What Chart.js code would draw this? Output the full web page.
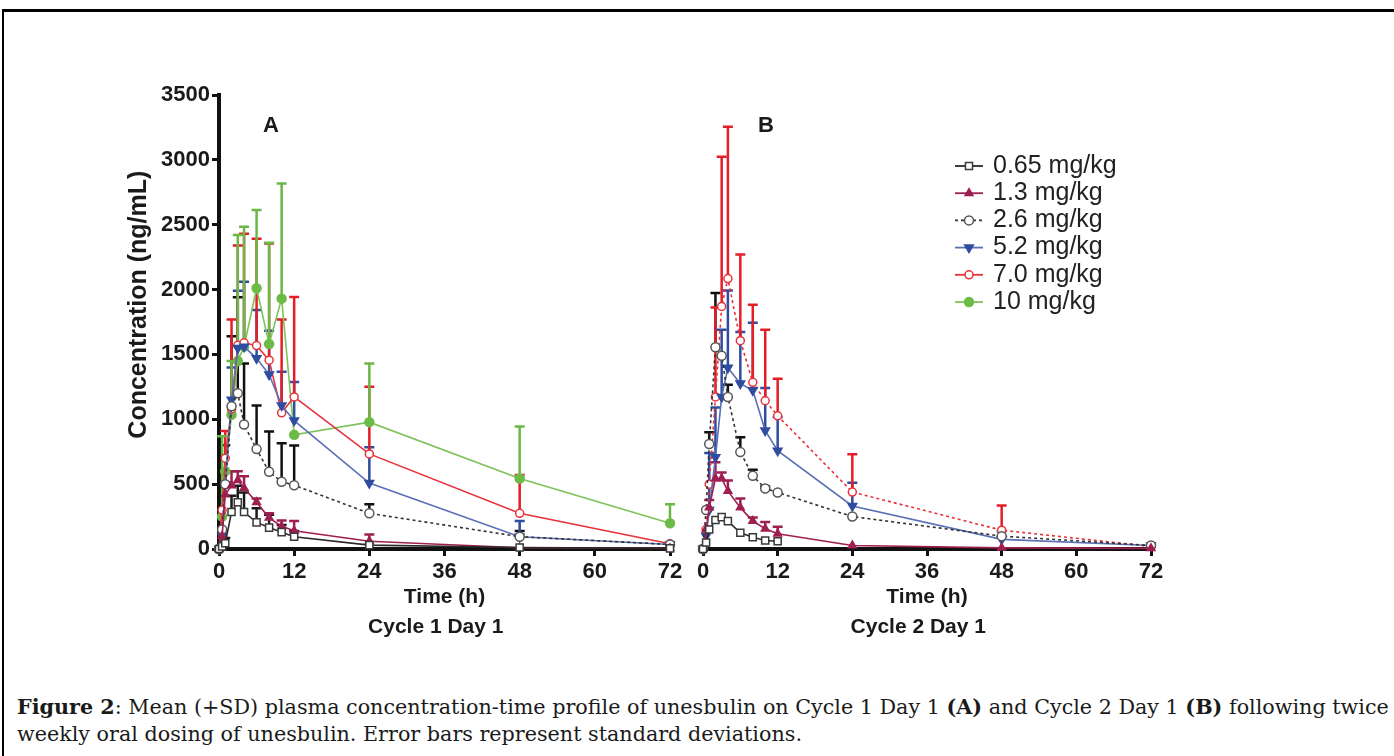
<!DOCTYPE html>
<html>
<head>
<meta charset="utf-8">
<script src="https://cdn.jsdelivr.net/npm/chart.js@4.4.1/dist/chart.umd.min.js"></script>
<style>
  html, body { margin: 0; padding: 0; background: #fff; }
  body { width: 1394px; height: 756px; position: relative; overflow: hidden; }
  #moldura { position: absolute; left: 2px; top: 9px; width: 1400px; height: 760px; border-top: 3px solid #000; border-left: 2px solid #000; }
  canvas { position: absolute; left: 0; top: 0; }
  .letra { position: absolute; transform: translate(-50%, -50%); font: bold 22px "Liberation Sans", Arial, sans-serif; color: #1a1a1a; }
  #rodape { position: absolute; left: 17px; top: 694px; font: 20.7px "DejaVu Serif", serif; line-height: 27px; white-space: nowrap; color: #1a1a1a; }
</style>
</head>
<body>
<div id="moldura"></div>
<canvas id="graficoCiclo1" width="1394" height="660"></canvas>
<canvas id="graficoCiclo2" width="1394" height="660"></canvas>
<div class="letra" style="left:271px; top:125px;">A</div>
<div class="letra" style="left:766px; top:125px;">B</div>
<div id="rodape"><b>Figure 2</b>: Mean (+SD) plasma concentration-time profile of unesbulin on Cycle 1 Day 1 <b>(A)</b> and Cycle 2 Day 1 <b>(B)</b> following twice<br>weekly oral dosing of unesbulin. Error bars represent standard deviations.</div>
<script>
// Tempos de coleta (h)
const tempos = [0, 0.5, 1, 2, 3, 4, 6, 8, 10, 12, 24, 48, 72];
const doses = ['0.65 mg/kg', '1.3 mg/kg', '2.6 mg/kg', '5.2 mg/kg', '7.0 mg/kg', '10 mg/kg'];

// Ciclo 1 Dia 1 - médias e desvios (ng/mL)
const c1Media065 = [0, 20, 45, 285, 360, 285, 205, 165, 130, 95, 30, 12, 5];
const c1Dp065    = [0, 0, 40, 125, 127, 150, 110, 100, 55, 43, 0, 0, 0];
const c1Media13  = [0, 100, 420, 490, 530, 470, 360, 240, 175, 140, 60, 10, 5];
const c1Dp13     = [0, 0, 170, 110, 70, 90, 30, 35, 45, 75, 52, 0, 0];
const c1Media26  = [0, 150, 500, 1100, 1200, 960, 770, 595, 518, 492, 275, 95, 35];
const c1Dp26     = [0, 0, 300, 540, 740, 470, 337, 310, 297, 305, 70, 43, 0];
const c1Media52  = [0, 100, 500, 1150, 1550, 1560, 1470, 1345, 1107, 990, 508, 95, 35];
const c1Dp52     = [0, 0, 0, 250, 440, 500, 373, 338, 259, 298, 276, 120, 0];
const c1Media70  = [0, 300, 700, 1080, 1570, 1590, 1568, 1456, 1050, 1172, 733, 275, 40];
const c1Dp70     = [0, 0, 210, 690, 770, 840, 823, 900, 720, 770, 517, 295, 0];
const c1Media10  = [0, 250, 600, 1035, 1450, 1560, 2010, 1580, 1930, 880, 978, 544, 198];
const c1Dp10     = [0, 620, 0, 415, 970, 924, 604, 780, 888, 0, 452, 400, 147];

// Ciclo 2 Dia 1 - médias e desvios (ng/mL)
const c2Media065 = [0, 50, 150, 223, 246, 215, 125, 91, 66, 60, null, null, null];
const c2Dp065    = [0, 0, 0, 0, 0, 0, 0, 0, 0, 0, 0, 0, 0];
const c2Media13  = [0, 150, 319, 543, 543, 448, 319, 215, 156, 118, 27, 9, 5];
const c2Dp13     = [0, 0, 59, 125, 47, 80, 70, 27, 52, 54, 0, 0, 0];
const c2Media26  = [0, 300, 810, 1555, 1490, 1172, 747, 564, 467, 436, 250, 99, 27];
const c2Dp26     = [0, 0, 90, 418, 0, 95, 115, 47, 15, 0, 0, 0, 0];
const c2Media52  = [0, 100, 300, 707, 1172, 1397, 1275, 1223, 913, 758, 332, 74, 27];
const c2Dp52     = [0, 0, 440, 383, 518, 596, 398, 522, 329, 260, 179, 63, 0];
const c2Media70  = [0, 150, 500, 1172, 1870, 2085, 1606, 1285, 1143, 1027, 439, 145, 20];
const c2Dp70     = [0, 0, 0, 690, 1153, 1170, 664, 598, 547, 285, 291, 190, 0];
const c2Media10  = [null, null, null, null, null, null, null, null, null, null, null, null, null];
const c2Dp10     = [0, 0, 0, 0, 0, 0, 0, 0, 0, 0, 0, 0, 0];

const fonteEixo = '"Liberation Sans", Arial, sans-serif';
const espaco = '\u00a0';

// Estilo de cada dose
const estilos = [
  { borderColor: '#2a2a2a', pointStyle: 'rect', pointBackgroundColor: '#fff', pointBorderColor: '#3a3a3a', pointRadius: 5, corBarra: '#1a1a1a' },
  { borderColor: '#9e1f50', pointStyle: 'triangle', pointBackgroundColor: '#9e1f50', pointBorderColor: '#9e1f50', pointRadius: 4.5, corBarra: '#9e1f50' },
  { borderColor: '#333333', pointStyle: 'circle', pointBackgroundColor: '#fff', pointBorderColor: '#555', pointRadius: 4.5, corBarra: '#111', borderDash: [3, 3] },
  { borderColor: '#5a6fb5', pointStyle: 'triangle', rotation: 180, pointBackgroundColor: '#2f4da0', pointBorderColor: '#2f4da0', pointRadius: 5, corBarra: '#2f4da0' },
  { borderColor: '#e8323a', pointStyle: 'circle', pointBackgroundColor: '#fff', pointBorderColor: '#e8323a', pointRadius: 4, corBarra: '#e41e26' },
  { borderColor: '#7dc25a', pointStyle: 'circle', pointBackgroundColor: '#6dbb47', pointBorderColor: '#6dbb47', pointRadius: 4.5, corBarra: '#6cb846' }
];

// Montar uma série a partir das médias e desvios
function criarSerie(indice, medias, desvios, extra = {}) {
  const e = estilos[indice];
  return Object.assign({
    label: doses[indice],
    data: tempos.map((t, i) => ({ x: t, y: medias[i] })),
    dp: desvios,
    corBarra: e.corBarra,
    borderColor: e.borderColor,
    borderWidth: 1.6,
    borderDash: e.borderDash || [],
    pointStyle: e.pointStyle,
    pointRotation: e.rotation || 0,
    pointRadius: e.pointRadius,
    pointBackgroundColor: e.pointBackgroundColor,
    pointBorderColor: e.pointBorderColor,
    pointBorderWidth: 1.5,
    tension: 0,
    clip: false
  }, extra);
}

// Plugin para as barras de erro (+DP)
const barrasErro = {
  id: 'barrasErro',
  beforeDatasetsDraw(chart) {
    const ctx = chart.ctx;
    const escalaY = chart.scales.y;
    chart.data.datasets.forEach((ds, i) => {
      const meta = chart.getDatasetMeta(i);
      ds.data.forEach((p, j) => {
        const dp = ds.dp[j];
        if (p.y == null || !dp) return;
        const px = meta.data[j].x;
        const y0 = escalaY.getPixelForValue(p.y);
        const y1 = escalaY.getPixelForValue(p.y + dp);
        ctx.save();
        ctx.strokeStyle = ds.corBarra;
        ctx.lineWidth = 2.5;
        ctx.beginPath();
        ctx.moveTo(px, y0);
        ctx.lineTo(px, y1);
        ctx.moveTo(px - 5, y1);
        ctx.lineTo(px + 5, y1);
        ctx.stroke();
        ctx.restore();
      });
    });
  }
};

// Plugin para a legenda dentro da área do gráfico
const legendaPainel = {
  id: 'legendaPainel',
  afterDraw(chart, args, opts) {
    const ctx = chart.ctx;
    chart.data.datasets.forEach((ds, i) => {
      const yy = opts.y + i * opts.passo;
      ctx.save();
      ctx.strokeStyle = ds.borderColor;
      ctx.lineWidth = 1.8;
      ctx.setLineDash(i === 2 ? [3, 3] : []);
      ctx.beginPath();
      ctx.moveTo(opts.x, yy);
      ctx.lineTo(opts.x + 28, yy);
      ctx.stroke();
      ctx.setLineDash([]);
      ctx.fillStyle = ds.pointBackgroundColor;
      ctx.strokeStyle = ds.pointBorderColor;
      ctx.lineWidth = ds.pointBorderWidth;
      Chart.helpers.drawPoint(ctx, { pointStyle: ds.pointStyle, radius: ds.pointRadius, rotation: ds.pointRotation, borderWidth: ds.pointBorderWidth }, opts.x + 14, yy);
      ctx.fillStyle = '#222';
      ctx.font = '25px ' + fonteEixo;
      ctx.textBaseline = 'middle';
      ctx.fillText(ds.label, opts.x + 38, yy);
      ctx.restore();
    });
  }
};

// Configuração base dos painéis
function criarConfiguracao(datasets, painel) {
  const grade = { drawOnChartArea: false, drawTicks: true, tickLength: 7, tickWidth: 3, tickColor: '#111' };
  return {
    type: 'line',
    data: { datasets: datasets },
    options: {
      responsive: false,
      animation: false,
      layout: { padding: painel.padding },
      plugins: {
        legend: { display: false },
        tooltip: { enabled: false },
        legendaPainel: painel.legenda || false
      },
      scales: {
        x: {
          type: 'linear',
          min: 0,
          max: 72,
          ticks: { stepSize: 12, autoSkip: false, maxRotation: 0, padding: 3, color: '#1a1a1a', font: { family: fonteEixo, size: 22, weight: 'bold' } },
          grid: grade,
          border: { display: true, color: '#111', width: 4 },
          title: { display: true, text: ['Time (h)', painel.ciclo + espaco.repeat(3)], color: '#1a1a1a', font: { family: fonteEixo, size: 21, weight: 'bold', lineHeight: 1.43 }, padding: { top: 0, bottom: 4 } },
          afterFit(escala) { escala.height = 97; }
        },
        y: {
          display: painel.mostrarY,
          min: 0,
          max: 3500,
          ticks: { stepSize: 500, padding: 2, color: '#1a1a1a', font: { family: fonteEixo, size: 22, weight: 'bold' }, callback: (valor) => String(valor) },
          grid: grade,
          border: { display: true, color: '#111', width: 4 },
          title: { display: true, text: espaco.repeat(5) + 'Concentration (ng/mL)', color: '#1a1a1a', font: { family: fonteEixo, size: 25, weight: 'bold' }, padding: { top: 4, bottom: 4 } },
          afterFit(escala) { escala.width = painel.mostrarY ? 99 : 0; }
        }
      }
    },
    plugins: painel.legenda ? [barrasErro, legendaPainel] : [barrasErro]
  };
}

// Função para criar um gráfico
function criarGrafico(idCanvas, datasets, painel) {
  const ctx = document.getElementById(idCanvas).getContext('2d');
  return new Chart(ctx, criarConfiguracao(datasets, painel));
}

// Painel A - Ciclo 1 Dia 1
criarGrafico('graficoCiclo1', [
  criarSerie(0, c1Media065, c1Dp065),
  criarSerie(1, c1Media13, c1Dp13),
  criarSerie(2, c1Media26, c1Dp26),
  criarSerie(3, c1Media52, c1Dp52),
  criarSerie(4, c1Media70, c1Dp70),
  criarSerie(5, c1Media10, c1Dp10)
], { ciclo: 'Cycle 1 Day 1', mostrarY: true, padding: { left: 120, right: 724, top: 95, bottom: 14 } });

// Painel B - Ciclo 2 Dia 1 (linhas tracejadas em 2.6 e 7.0)
criarGrafico('graficoCiclo2', [
  criarSerie(0, c2Media065, c2Dp065),
  criarSerie(1, c2Media13, c2Dp13),
  criarSerie(2, c2Media26, c2Dp26),
  criarSerie(3, c2Media52, c2Dp52),
  criarSerie(4, c2Media70, c2Dp70, { borderDash: [3, 3] }),
  criarSerie(5, c2Media10, c2Dp10)
], { ciclo: 'Cycle 2 Day 1', mostrarY: false, padding: { left: 703, right: 243, top: 95, bottom: 14 }, legenda: { x: 955, y: 166, passo: 27.2 } });
</script>
</body>
</html>
